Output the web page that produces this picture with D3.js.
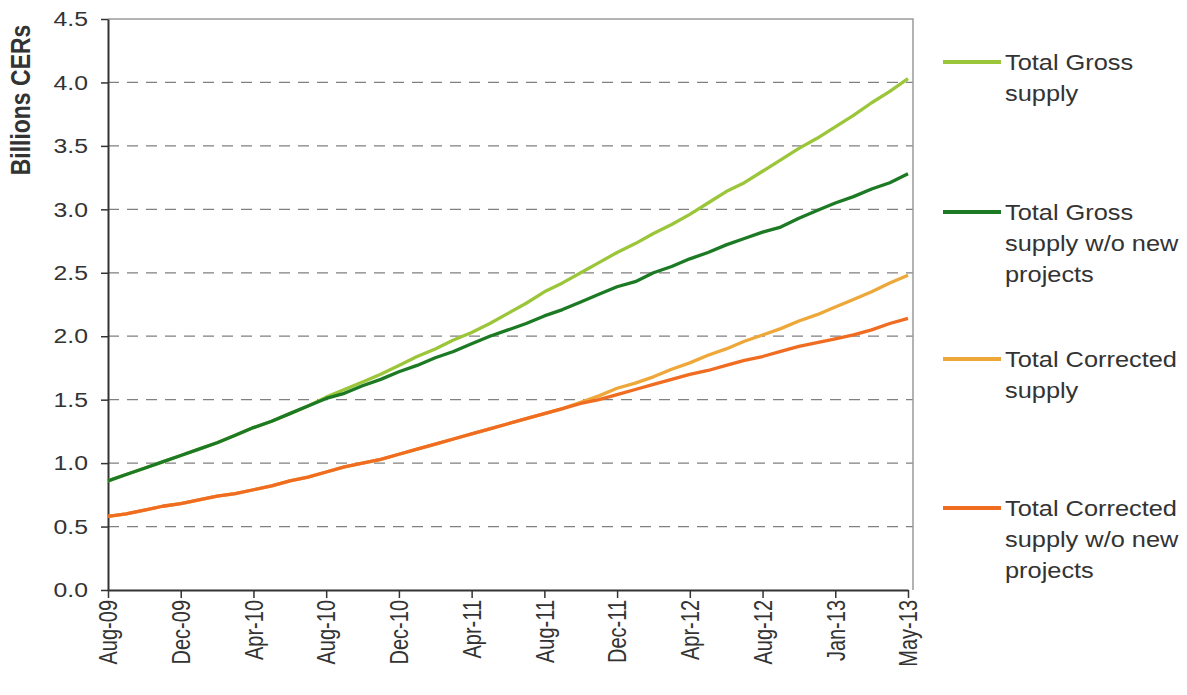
<!DOCTYPE html>
<html>
<head>
<meta charset="utf-8">
<script src="https://cdn.jsdelivr.net/npm/d3@7"></script>
<style>
  body { margin: 0; background: #fff; }
  text { font-family: "Liberation Sans", Arial, sans-serif; fill: #333; }
</style>
</head>
<body>
<div id="chart"></div>
<script>
// Mesi sull'asse x (dic-12 manca nei dati originali)
const months = [
    "Aug-09","Sep-09","Oct-09","Nov-09","Dec-09","Jan-10","Feb-10","Mar-10","Apr-10","May-10","Jun-10","Jul-10",
    "Aug-10","Sep-10","Oct-10","Nov-10","Dec-10","Jan-11","Feb-11","Mar-11","Apr-11","May-11","Jun-11","Jul-11",
    "Aug-11","Sep-11","Oct-11","Nov-11","Dec-11","Jan-12","Feb-12","Mar-12","Apr-12","May-12","Jun-12","Jul-12",
    "Aug-12","Sep-12","Oct-12","Nov-12","Jan-13","Feb-13","Mar-13","Apr-13","May-13"
];
const tickLabels = ["Aug-09","Dec-09","Apr-10","Aug-10","Dec-10","Apr-11","Aug-11","Dec-11","Apr-12","Aug-12","Jan-13","May-13"];
const yTicks = [0, 0.5, 1, 1.5, 2, 2.5, 3, 3.5, 4, 4.5];

const grossSupply = [
    0.86,0.91,0.96,1.01,1.06,1.11,1.16,1.22,1.28,1.33,1.39,1.45,
    1.52,1.58,1.64,1.70,1.77,1.84,1.90,1.97,2.03,2.10,2.18,2.26,
    2.35,2.42,2.50,2.58,2.66,2.73,2.81,2.88,2.96,3.05,3.14,3.21,
    3.30,3.39,3.48,3.56,3.65,3.74,3.84,3.93,4.03
];
const grossNoNew = [
    0.86,0.91,0.96,1.01,1.06,1.11,1.16,1.22,1.28,1.33,1.39,1.45,
    1.51,1.55,1.61,1.66,1.72,1.77,1.83,1.88,1.94,2.00,2.05,2.10,
    2.16,2.21,2.27,2.33,2.39,2.43,2.50,2.55,2.61,2.66,2.72,2.77,
    2.82,2.86,2.93,2.99,3.05,3.10,3.16,3.21,3.28
];
const correctedSupply = [
    0.58,0.60,0.63,0.66,0.68,0.71,0.74,0.76,0.79,0.82,0.86,0.89,
    0.93,0.97,1.00,1.03,1.07,1.11,1.15,1.19,1.23,1.27,1.31,1.35,
    1.39,1.43,1.48,1.53,1.59,1.63,1.68,1.74,1.79,1.85,1.90,1.96,
    2.01,2.06,2.12,2.17,2.23,2.29,2.35,2.42,2.48
];
const correctedNoNew = [
    0.58,0.60,0.63,0.66,0.68,0.71,0.74,0.76,0.79,0.82,0.86,0.89,
    0.93,0.97,1.00,1.03,1.07,1.11,1.15,1.19,1.23,1.27,1.31,1.35,
    1.39,1.43,1.47,1.50,1.54,1.58,1.62,1.66,1.70,1.73,1.77,1.81,
    1.84,1.88,1.92,1.95,1.98,2.01,2.05,2.10,2.14
];

const seriesNames = [
    ["Total Gross", "supply"],
    ["Total Gross", "supply w/o new", "projects"],
    ["Total Corrected", "supply"],
    ["Total Corrected", "supply w/o new", "projects"]
];
const seriesColors = ["#9cc63a", "#1d7a24", "#eea83a", "#f06c20"];

document.addEventListener("DOMContentLoaded", function () {
    const width = 1187;
    const height = 695;
    const stretch = 1.18; // il testo originale e' allargato in orizzontale

    const svg = d3.select("#chart")
        .append("svg")
        .attr("width", width)
        .attr("height", height);

    const x = d3.scalePoint().domain(months).range([108, 908]);
    const y = d3.scaleLinear().domain([0, 4.5]).range([590, 19]);

    // Griglia tratteggiata
    svg.append("g")
        .selectAll("line")
        .data(yTicks.filter(d => d > 0 && d < 4.5))
        .join("line")
        .attr("x1", 108)
        .attr("x2", 913)
        .attr("y1", d => y(d))
        .attr("y2", d => y(d))
        .attr("stroke", "#808080")
        .attr("stroke-width", 1.2)
        .attr("stroke-dasharray", "11,8");

    // Cornice superiore e destra
    svg.append("path")
        .attr("d", `M108,${y(4.5)}H913V${y(0)}`)
        .attr("fill", "none")
        .attr("stroke", "#9a9a9a")
        .attr("stroke-width", 1.5);

    // Asse y
    const yAxis = svg.append("g")
        .attr("transform", "translate(108,0)")
        .call(d3.axisLeft(y).tickValues(yTicks).tickFormat(d3.format(".1f")).tickSize(7).tickSizeOuter(0));
    yAxis.select(".domain").attr("stroke", "#333").attr("stroke-width", 2);
    yAxis.selectAll(".tick line").attr("stroke", "#333").attr("stroke-width", 1.5);
    yAxis.selectAll(".tick text")
        .attr("x", -20 / stretch)
        .attr("transform", `scale(${stretch},1)`)
        .style("font-size", "21px")
        .attr("fill", "#333");

    // Asse x
    const xAxis = svg.append("g")
        .attr("transform", `translate(0,${y(0)})`)
        .call(d3.axisBottom(x).tickValues(tickLabels).tickSize(8).tickSizeOuter(0));
    xAxis.select(".domain").attr("stroke", "#333").attr("stroke-width", 2);
    xAxis.selectAll(".tick line").attr("stroke", "#333").attr("stroke-width", 1.5);
    xAxis.selectAll(".tick text")
        .attr("x", -10)
        .attr("y", 0)
        .attr("dy", "0.35em")
        .attr("text-anchor", "end")
        .attr("transform", "rotate(-90) scale(1,1.25)")
        .style("font-size", "20px")
        .attr("fill", "#333");

    // Titolo asse y
    svg.append("text")
        .attr("transform", `translate(30,100) rotate(-90) scale(1,${stretch})`)
        .attr("text-anchor", "middle")
        .style("font-size", "23px")
        .style("font-weight", "bold")
        .attr("fill", "#222")
        .text("Billions CERs");

    // Linee delle serie
    const allSeries = [grossSupply, grossNoNew, correctedSupply, correctedNoNew];
    const line = d3.line()
        .x((d, i) => x(months[i]))
        .y(d => y(d));

    const drawOrder = [0, 2, 1, 3];
    drawOrder.forEach(k => {
        svg.append("path")
            .datum(allSeries[k])
            .attr("fill", "none")
            .attr("stroke", seriesColors[k])
            .attr("stroke-width", 3.3)
            .attr("stroke-linejoin", "round")
            .attr("d", line);
    });

    // Legenda
    const legendY = [62, 212, 359, 508];
    const legend = svg.append("g")
        .selectAll("g")
        .data(seriesNames)
        .join("g")
        .attr("transform", (d, i) => `translate(943,${legendY[i]})`);

    legend.append("line")
        .attr("x1", 0)
        .attr("x2", 58)
        .attr("stroke", (d, i) => seriesColors[i])
        .attr("stroke-width", 4);

    legend.each(function (d) {
        d3.select(this).selectAll("text")
            .data(d)
            .join("text")
            .attr("transform", (t, j) => `translate(62,${j * 31}) scale(${stretch},1)`)
            .attr("dy", "0.35em")
            .style("font-size", "21.5px")
            .attr("fill", "#333")
            .text(t => t);
    });
});
</script>
</body>
</html>
